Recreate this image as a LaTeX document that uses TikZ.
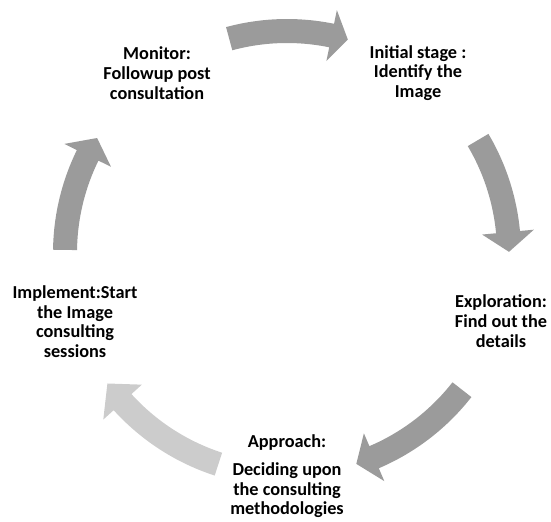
\documentclass[tikz,border=0pt]{standalone}
\usepackage{fontspec}
\setmainfont{Carlito}
\usepackage{tikz}
\usetikzlibrary{calc}
\definecolor{cyclegray}{RGB}{155,155,155}
\definecolor{cyclelight}{RGB}{204,204,204}
\tikzset{stage/.style={align=center,font=\bfseries\fontsize{10.4}{11.2}\selectfont}}
\newcommand{\cyclearrow}[4]{%
  \fill[#4] plot[domain=#1:#2,samples=30] ({287+234*cos(\x)},{253+234*sin(\x)})
    -- ({287+248*cos(#2)},{253+248*sin(#2)})
    -- ({287+222*cos(#3)},{253+222*sin(#3)})
    -- ({287+196*cos(#2)},{253+196*sin(#2)})
    -- plot[domain=#2:#1,samples=30] ({287+210*cos(\x)},{253+210*sin(\x)}) -- cycle;}

\begin{document}
\begin{tikzpicture}[x=0.02cm,y=-0.02cm]
  \useasboundingbox (0,0) rectangle (551,521);
  \foreach \a/\b/\c/\col in {254.9/281.6/285.9/cyclegray,
                             329.4/354.6/359.7/cyclegray,
                             38/66.9/71.8/cyclegray,
                             108/137.8/144/cyclelight,
                             180.8/206.1/211.2/cyclegray}
    {\cyclearrow{\a}{\b}{\c}{\col}}
  \node[stage] (monitor) at (157,73) {Monitor:\\Followup post\\consultation};
  \node[stage] (initial) at (418,73) {Initial stage :\\Identify the\\Image};
  \node[stage] (explore) at (501,321) {Exploration:\\Find out the\\details};
  \node[stage] (approach) at (287,476.5) {Approach:\\[4.4pt]Deciding upon\\the consulting\\methodologies};
  \node[stage] (implement) at (75,321.5) {Implement:Start\\the Image\\consulting\\sessions};
\end{tikzpicture}
\end{document}
